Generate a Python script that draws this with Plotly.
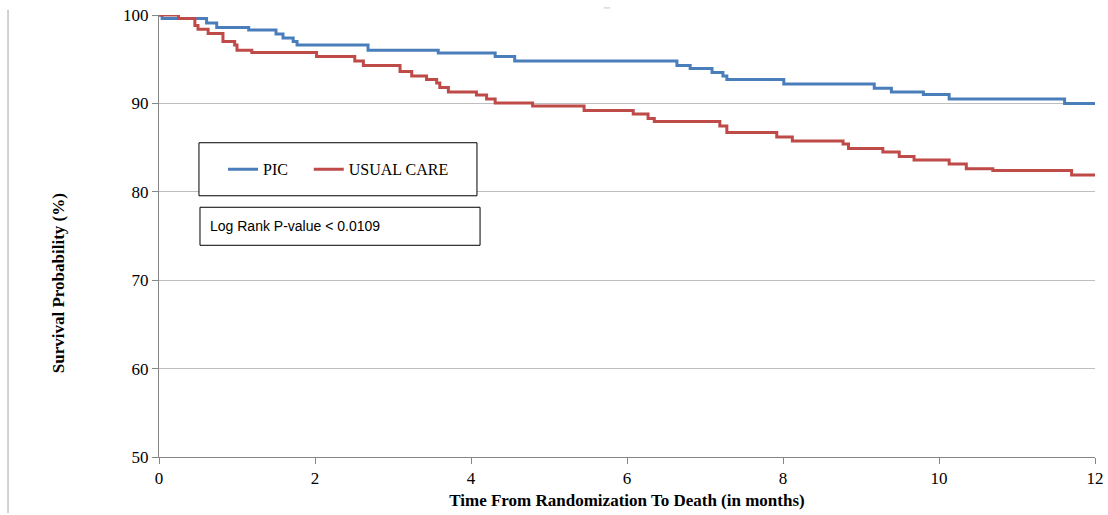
import plotly.graph_objects as go

# ---- data ----
pic_time = [0, 0.04, 0.61, 0.74, 1.15, 1.50, 1.59, 1.72, 1.77, 2.68, 3.58, 4.31, 4.56,
            6.64, 6.81, 7.09, 7.23, 7.28, 8.01, 9.17, 9.39, 9.80, 10.13, 11.61, 12]
pic_surv = [100, 99.6, 99.1, 98.6, 98.3, 97.85, 97.4, 97.0, 96.6, 96.0, 95.7, 95.3, 94.8,
            94.3, 93.95, 93.5, 93.1, 92.7, 92.2, 91.7, 91.3, 91.0, 90.5, 90.0, 90.0]

uc_time = [0, 0.25, 0.46, 0.50, 0.63, 0.82, 0.97, 1.00, 1.19, 2.02, 2.51, 2.62, 3.09, 3.24,
           3.43, 3.56, 3.60, 3.71, 4.07, 4.20, 4.31, 4.79, 5.45, 6.08, 6.27, 6.35, 7.19,
           7.28, 7.92, 8.12, 8.77, 8.84, 9.28, 9.49, 9.68, 10.13, 10.35, 10.69, 11.70, 12]
uc_surv = [100, 99.6, 98.8, 98.4, 97.9, 97.0, 96.6, 96.0, 95.75, 95.3, 94.8, 94.3, 93.6, 93.1,
           92.7, 92.3, 91.8, 91.3, 90.95, 90.5, 90.05, 89.7, 89.2, 88.8, 88.3, 87.95, 87.45,
           86.7, 86.2, 85.75, 85.4, 84.9, 84.5, 84.0, 83.6, 83.15, 82.6, 82.4, 81.9, 81.9]

series_names = ["PIC", "USUAL CARE"]
x_ticks = [0, 2, 4, 6, 8, 10, 12]
y_ticks = [50, 60, 70, 80, 90, 100]
pvalue_text = "Log Rank P-value < 0.0109"
x_title = "Time From Randomization To Death (in months)"
y_title = "Survival Probability (%)"

BLUE = "#4A7EBB"
RED = "#BE4B48"
SERIF = "Liberation Serif, Times New Roman, serif"

fig = go.Figure()
fig.add_trace(go.Scatter(x=pic_time, y=pic_surv, mode="lines", line_shape="hv",
                         line=dict(color=BLUE, width=3), name=series_names[0],
                         legend="legend"))
fig.add_trace(go.Scatter(x=uc_time, y=uc_surv, mode="lines", line_shape="hv",
                         line=dict(color=RED, width=3), name=series_names[1],
                         legend="legend2"))

leg_common = dict(orientation="h", xanchor="left", yanchor="middle",
                  bgcolor="rgba(0,0,0,0)", borderwidth=0, itemwidth=30,
                  font=dict(family=SERIF, size=16, color="black"))

fig.update_layout(
    template="none",
    width=1108, height=515,
    margin=dict(l=159, r=13, t=15, b=58, autoexpand=False),
    paper_bgcolor="white", plot_bgcolor="white",
    font=dict(family=SERIF, color="black"),
    showlegend=True,
    legend=dict(x=0.0684, y=0.651, **leg_common),
    legend2=dict(x=0.160, y=0.651, **leg_common),
    xaxis=dict(range=[0, 12], tickvals=x_ticks, showgrid=False, zeroline=False,
               automargin=False, ticklabeloverflow="allow",
               showline=True, linecolor="#868686", linewidth=1,
               ticks="outside", ticklen=6, tickcolor="#868686",
               tickfont=dict(family=SERIF, size=17, color="black"),
               title=dict(text="<b>" + x_title + "</b>", standoff=6,
                          font=dict(family=SERIF, size=17, color="black"))),
    yaxis=dict(range=[50, 100], tickvals=y_ticks, showgrid=True, gridcolor="#BEBEBE",
               gridwidth=1.3, zeroline=False, automargin=False, ticklabeloverflow="allow",
               showline=True, linecolor="#868686", linewidth=1,
               ticks="outside", ticklen=6, tickcolor="#868686",
               tickfont=dict(family=SERIF, size=17, color="black")),
)

# y-axis title (sits slightly below the axis centre in the reference)
fig.add_annotation(xref="paper", yref="paper", x=-0.108, y=0.393, xanchor="center", yanchor="middle",
                   text="<b>" + y_title + "</b>", textangle=-90, showarrow=False,
                   font=dict(family=SERIF, size=17, color="black"))

# legend box
fig.add_shape(type="rect", xref="paper", yref="paper", x0=0.0427, x1=0.3397, y0=0.591, y1=0.711,
              line=dict(color="black", width=1), fillcolor="white", layer="above")
# p-value box
fig.add_shape(type="rect", xref="paper", yref="paper", x0=0.0438, x1=0.343, y0=0.479, y1=0.565,
              line=dict(color="black", width=1), fillcolor="white", layer="above")
fig.add_annotation(xref="paper", yref="paper", x=0.052, y=0.522, xanchor="left", yanchor="middle",
                   text=pvalue_text, showarrow=False,
                   font=dict(family="Liberation Sans, Arial, sans-serif", size=14, color="black"))
# decorative left rule and small dash from the original page
fig.add_shape(type="line", xref="paper", yref="paper", x0=-0.1613, x1=-0.1613, y0=-0.127, y1=1.012,
              line=dict(color="#A6A6A6", width=1))
fig.add_shape(type="line", xref="paper", yref="paper", x0=0.475, x1=0.482, y0=1.016, y1=1.016,
              line=dict(color="#C8C8C8", width=1))

fig.write_html("out.html", config={"displayModeBar": False},
               post_script="document.body.style.margin='0px';document.body.style.overflow='hidden';")
